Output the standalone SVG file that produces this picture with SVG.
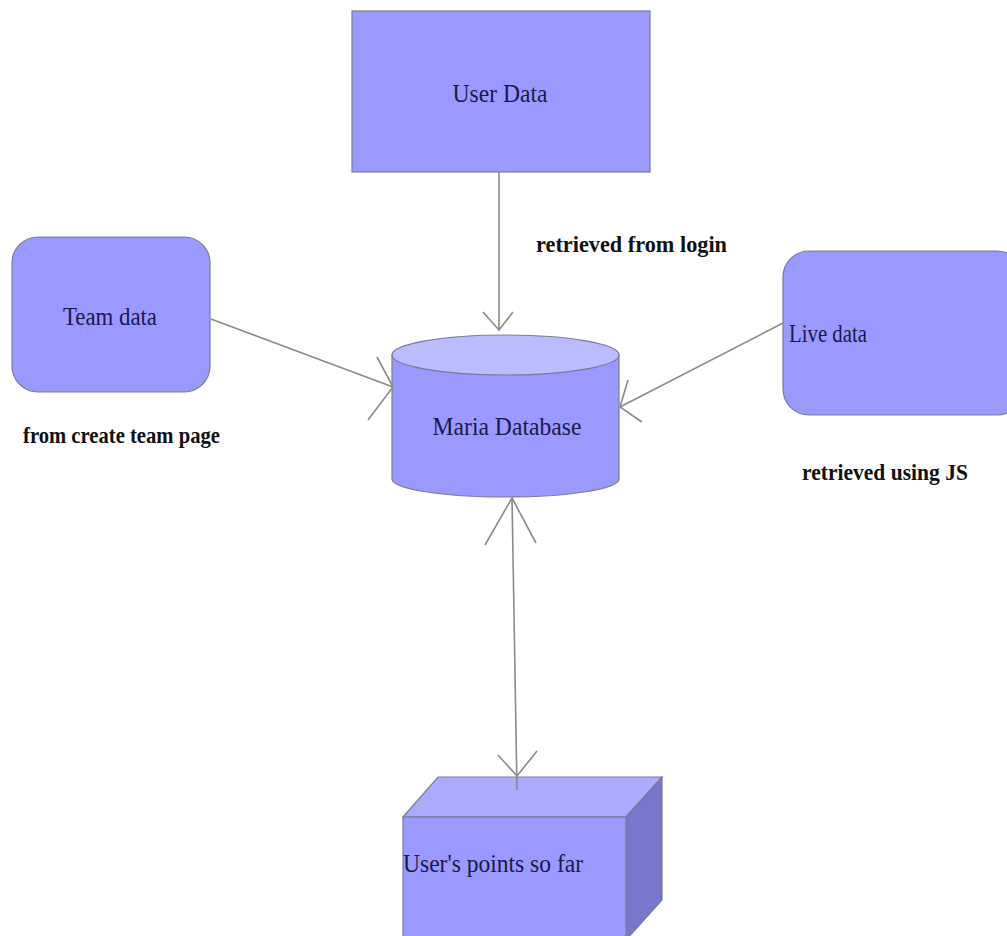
<svg xmlns="http://www.w3.org/2000/svg" width="1007" height="936" viewBox="0 0 1007 936">
<style>
.node{fill:#9999ff;stroke:#7a7a9a;stroke-width:1.2}
.light{fill:#bbbbff;stroke:#7a7a9a;stroke-width:1.2}
.top{fill:#aaaaff;stroke:#7a7a9a;stroke-width:1.2}
.side{fill:#7777cc;stroke:#7a7a9a;stroke-width:1.2}
.nt{font-family:"Liberation Serif","Times New Roman",serif;font-size:25px;fill:#1a1a4a}
.lbl{font-family:"Liberation Serif","Times New Roman",serif;font-size:23px;font-weight:bold;fill:#111}
.conn line,.conn polyline{stroke:#8a8a8a;stroke-width:1.6;fill:none}
</style>
<rect width="1007" height="936" fill="#ffffff"/>
<g id="user-data">
<rect class="node" x="352" y="11" width="298" height="161"/>
<text class="nt" x="500" y="102" text-anchor="middle" textLength="95" lengthAdjust="spacingAndGlyphs">User Data</text>
</g>
<g id="team-data">
<rect class="node" x="12" y="237" width="198" height="155" rx="26" ry="26"/>
<text class="nt" x="110" y="325" text-anchor="middle" textLength="94" lengthAdjust="spacingAndGlyphs">Team data</text>
</g>
<g id="live-data">
<rect class="node" x="783" y="251" width="240" height="164" rx="26" ry="26"/>
<text class="nt" x="789" y="342" textLength="78" lengthAdjust="spacingAndGlyphs">Live data</text>
</g>
<g id="maria-database">
<path class="node" d="M392,355 L392,479 A113.5,18 0 0 0 619,479 L619,355 Z"/>
<ellipse class="light" cx="505.5" cy="355" rx="113.5" ry="20"/>
<text class="nt" x="507" y="435" text-anchor="middle" textLength="149" lengthAdjust="spacingAndGlyphs">Maria Database</text>
</g>
<g id="user-points">
<polygon class="top" points="403,817 438,777 662,777 626,817"/>
<polygon class="side" points="626,817 662,777 662,900 626,940"/>
<rect class="node" x="403" y="817" width="223" height="125"/>
<text class="nt" x="403" y="872" textLength="180" lengthAdjust="spacingAndGlyphs">User's points so far</text>
</g>
<g id="connectors" class="conn">
<line x1="499" y1="172" x2="499" y2="330"/>
<polyline points="483,312 499,330 513,312"/>
<line x1="211" y1="319" x2="393" y2="387"/>
<polyline points="377,357 393,387 368,420"/>
<line x1="783" y1="323" x2="620" y2="407"/>
<polyline points="628,380 620,407 642,422"/>
<line x1="512" y1="498" x2="517" y2="790"/>
<polyline points="485,545 512,498 536,543"/>
<polyline points="498,755 517,776 537,751"/>
</g>
<g id="labels">
<text class="lbl" x="536" y="252" textLength="191" lengthAdjust="spacingAndGlyphs">retrieved from login</text>
<text class="lbl" x="23" y="443" textLength="197" lengthAdjust="spacingAndGlyphs">from create team page</text>
<text class="lbl" x="802" y="480" textLength="166" lengthAdjust="spacingAndGlyphs">retrieved using JS</text>
</g>
</svg>
